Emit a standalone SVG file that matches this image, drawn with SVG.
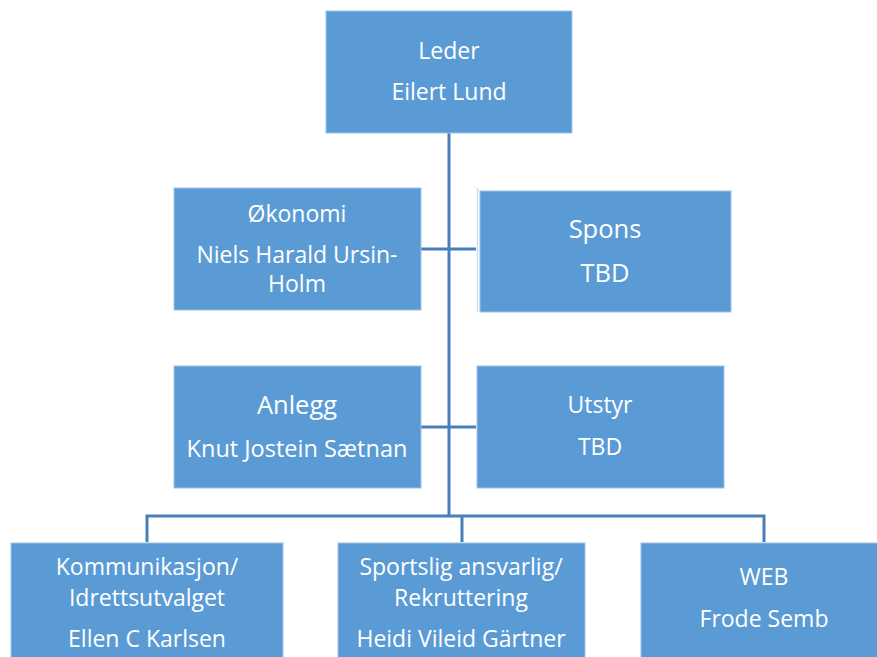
<svg xmlns="http://www.w3.org/2000/svg" width="877" height="657" viewBox="0 0 877 657">
<style>
.box{fill:#5B9BD5;stroke:#9DC3E6;stroke-width:1}
.t{fill:#ffffff;font-family:"Open Sans","Noto Sans",sans-serif;text-anchor:middle;font-size:23px}
.l{font-size:25.5px}
.m{font-size:23.5px}
.c{stroke:#4A7EBB;stroke-width:3;fill:none}
</style>
<g id="connectors">
<path class="c" d="M449 133 V515"/>
<path class="c" d="M421 249 H476"/>
<path class="c" d="M421 427 H476"/>
<path class="c" d="M147 542 V516 H764 V542"/>
<path class="c" d="M462 516 V542"/>
<line x1="477.5" y1="188" x2="477.5" y2="312" stroke="#C9DDF0" stroke-width="1.5"/>
</g>
<g id="leder">
<rect class="box" x="326" y="11" width="246" height="122"/>
<text class="t" x="449" y="59">Leder</text>
<text class="t" x="449" y="100">Eilert Lund</text>
</g>
<g id="okonomi">
<rect class="box" x="174" y="188" width="247" height="122"/>
<text class="t" x="297" y="222">Økonomi</text>
<text class="t" x="297" y="263">Niels Harald Ursin-</text>
<text class="t" x="297" y="292">Holm</text>
</g>
<g id="spons">
<rect class="box" x="480" y="191" width="251" height="121"/>
<text class="t l" x="605" y="238">Spons</text>
<text class="t l" x="605" y="282">TBD</text>
</g>
<g id="anlegg">
<rect class="box" x="174" y="366" width="247" height="122"/>
<text class="t l" x="297" y="414">Anlegg</text>
<text class="t m" x="297" y="457">Knut Jostein Sætnan</text>
</g>
<g id="utstyr">
<rect class="box" x="477" y="366" width="247" height="122"/>
<text class="t" x="600" y="413">Utstyr</text>
<text class="t" x="600" y="455">TBD</text>
</g>
<g id="kommunikasjon">
<rect class="box" x="11" y="543" width="272" height="120"/>
<text class="t" x="147" y="575">Kommunikasjon/</text>
<text class="t" x="147" y="606">Idrettsutvalget</text>
<text class="t" x="147" y="647">Ellen C Karlsen</text>
</g>
<g id="sportslig">
<rect class="box" x="338" y="543" width="247" height="120"/>
<text class="t" x="461" y="575">Sportslig ansvarlig/</text>
<text class="t" x="461" y="606">Rekruttering</text>
<text class="t" x="461" y="647">Heidi Vileid Gärtner</text>
</g>
<g id="web">
<rect class="box" x="641" y="543" width="250" height="120"/>
<text class="t" x="764" y="585">WEB</text>
<text class="t" x="764" y="627">Frode Semb</text>
</g>
</svg>
